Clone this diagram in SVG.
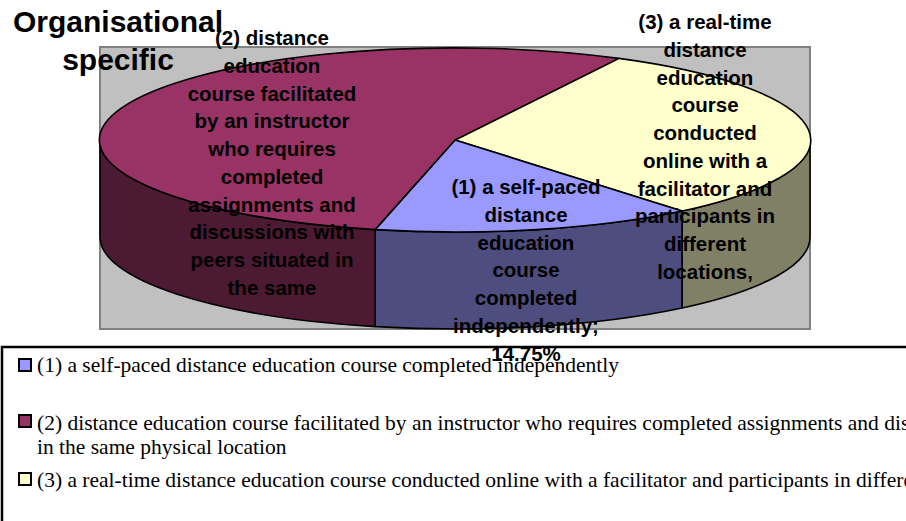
<svg xmlns="http://www.w3.org/2000/svg" width="906" height="521" viewBox="0 0 906 521">
<style>
.edge{stroke:#000;stroke-width:1.6;stroke-linejoin:round}
.lbl{font-family:"Liberation Sans",Arial,sans-serif;font-weight:bold;font-size:20.5px;fill:#000;text-anchor:middle}
.title{font-family:"Liberation Sans",Arial,sans-serif;font-weight:bold;font-size:30px;fill:#000;text-anchor:middle}
.leg{font-family:"Liberation Serif","Times New Roman",serif;font-size:21.5px;fill:#000}
.key{stroke:#000;stroke-width:2}
</style>
<rect width="906" height="521" fill="#fff"/>
<g id="plot-area">
<rect x="100" y="47" width="710" height="282" fill="#C0C0C0" stroke="#808080" stroke-width="2"/>
</g>
<g id="slice-3">
<path class="edge" fill="#808066" d="M810,140 A355,92 0 0 1 682,211 L682,308 A355,92 0 0 0 810,237 Z"/>
<path class="edge" fill="#FFFFCC" d="M455,140 L618.9,58.4 A355,92 0 0 1 682,211 Z"/>
</g>
<g id="slice-1">
<path class="edge" fill="#4D4D80" d="M682,211 A355,92 0 0 1 375.1,229.6 L375.1,326.6 A355,92 0 0 0 682,308 Z"/>
<path class="edge" fill="#9999FF" d="M455,140 L682,211 A355,92 0 0 1 375.1,229.6 Z"/>
</g>
<g id="slice-2">
<path class="edge" fill="#4D1A33" d="M375.1,229.6 A355,92 0 0 1 100,140 L100,237 A355,92 0 0 0 375.1,326.6 Z"/>
<path class="edge" fill="#993366" d="M455,140 L375.1,229.6 A355,92 0 1 1 618.9,58.4 Z"/>
</g>
<g id="legend">
<rect x="2" y="347" width="1000" height="300" fill="#fff" stroke="#000" stroke-width="2.5"/>
<rect class="key" x="19" y="359" width="12" height="12" fill="#9999FF"/>
<text class="leg" x="37" y="371.5">(1) a self-paced distance education course completed independently</text>
<rect class="key" x="19" y="415" width="12" height="12" fill="#993366"/>
<text class="leg" x="37" y="429.5">(2) distance education course facilitated by an instructor who requires completed assignments and discussions with peers situated</text>
<text class="leg" x="37" y="453.5">in the same physical location</text>
<rect class="key" x="19" y="473" width="12" height="12" fill="#FFFFCC"/>
<text class="leg" x="37" y="486.5">(3) a real-time distance education course conducted online with a facilitator and participants in different locations</text>
</g>
<g id="title">
<text class="title" x="118" y="32">Organisational</text>
<text class="title" x="118" y="70">specific</text>
</g>
<g id="label-2">
<text class="lbl" x="272" y="45">(2) distance</text>
<text class="lbl" x="272" y="72.7">education</text>
<text class="lbl" x="272" y="100.5">course facilitated</text>
<text class="lbl" x="272" y="128.2">by an instructor</text>
<text class="lbl" x="272" y="156">who requires</text>
<text class="lbl" x="272" y="183.7">completed</text>
<text class="lbl" x="272" y="211.5">assignments and</text>
<text class="lbl" x="272" y="239.2">discussions with</text>
<text class="lbl" x="272" y="267">peers situated in</text>
<text class="lbl" x="272" y="294.7">the same</text>
</g>
<g id="label-3">
<text class="lbl" x="705" y="29">(3) a real-time</text>
<text class="lbl" x="705" y="56.7">distance</text>
<text class="lbl" x="705" y="84.5">education</text>
<text class="lbl" x="705" y="112.2">course</text>
<text class="lbl" x="705" y="140">conducted</text>
<text class="lbl" x="705" y="167.7">online with a</text>
<text class="lbl" x="705" y="195.5">facilitator and</text>
<text class="lbl" x="705" y="223.2">participants in</text>
<text class="lbl" x="705" y="251">different</text>
<text class="lbl" x="705" y="278.7">locations,</text>
</g>
<g id="label-1">
<text class="lbl" x="526" y="194">(1) a self-paced</text>
<text class="lbl" x="526" y="221.7">distance</text>
<text class="lbl" x="526" y="249.5">education</text>
<text class="lbl" x="526" y="277.2">course</text>
<text class="lbl" x="526" y="305">completed</text>
<text class="lbl" x="526" y="332.7">independently;</text>
<text class="lbl" x="526" y="360.5">14.75%</text>
</g>
</svg>
